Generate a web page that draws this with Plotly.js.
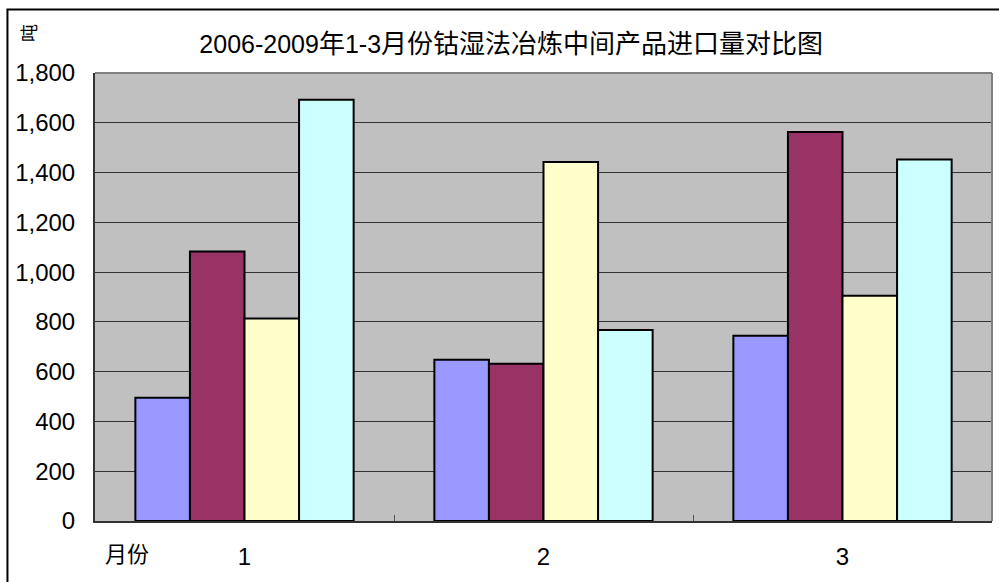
<!DOCTYPE html>
<html>
<head>
<meta charset="utf-8">
<script src="https://cdn.plot.ly/plotly-3.0.1.min.js"></script>
<style>html,body{margin:0;padding:0;background:#fff;}#chart{width:999px;height:582px;}</style>
</head>
<body>
<div id="chart"></div>
<script>
const months = ['1', '2', '3'];
const seriesNames = ['2006', '2007', '2008', '2009'];
const s2006 = [495, 648, 744];
const s2007 = [1083, 632, 1563];
const s2008 = [814, 1442, 905];
const s2009 = [1693, 767, 1452];
const colors = ['#9999FF', '#993366', '#FFFFCC', '#CCFFFF'];
const allSeries = [s2006, s2007, s2008, s2009];

const FONT = 'Liberation Sans, Arial, Noto Sans CJK SC, sans-serif';
const CJK = 'Noto Sans CJK SC, sans-serif';

const traces = allSeries.map((vals, i) => ({
  type: 'bar',
  name: seriesNames[i],
  x: months,
  y: vals,
  marker: {color: colors[i], line: {color: '#000000', width: 2}},
  hoverinfo: 'x+y'
}));

const cj = t => '<span style="font-size:26px;font-family:' + CJK + '">' + t + '</span>';
const titleText = '2006-2009' + cj('年') + '1-3' + cj('月份钴湿法冶炼中间产品进口量对比图');

const layout = {
  width: 999,
  height: 582,
  margin: {l: 95, r: 7, t: 73, b: 61},
  paper_bgcolor: '#FFFFFF',
  plot_bgcolor: '#C0C0C0',
  showlegend: false,
  barmode: 'group',
  bargap: 0.27,
  bargroupgap: 0,
  font: {family: FONT, size: 24, color: '#000'},
  title: {
    text: titleText,
    font: {family: FONT, size: 25, color: '#000'},
    x: 0.464, xref: 'paper', xanchor: 'center',
    y: 0.924, yref: 'container', yanchor: 'middle'
  },
  xaxis: {
    type: 'category',
    tickson: 'boundaries',
    ticks: 'inside',
    ticklen: 6,
    tickcolor: '#555',
    showgrid: false,
    showline: true,
    linecolor: '#333',
    linewidth: 2,
    tickfont: {family: FONT, size: 24, color: '#000'},
    ticklabelstandoff: 13
  },
  yaxis: {
    range: [0, 1800],
    dtick: 200,
    tickformat: ',d',
    ticks: 'inside',
    ticklen: 8,
    tickcolor: '#333',
    showgrid: true,
    gridcolor: '#333333',
    gridwidth: 1,
    zeroline: false,
    showline: true,
    linecolor: '#333',
    linewidth: 2,
    tickfont: {family: FONT, size: 24, color: '#000'},
    ticklabelstandoff: 13
  },
  shapes: [
    {type: 'line', xref: 'paper', yref: 'paper', x0: 0, x1: 1, y0: 1, y1: 1, line: {color: '#808080', width: 2}},
    {type: 'line', xref: 'paper', yref: 'paper', x0: 1, x1: 1, y0: 0, y1: 1, line: {color: '#808080', width: 2}},
    {type: 'rect', xref: 'paper', yref: 'paper', x0: -0.0976, x1: 1.02, y0: -0.2, y1: 1.1417, line: {color: '#000', width: 2}, fillcolor: 'rgba(0,0,0,0)'}
  ],
  annotations: [
    {text: '吨', xref: 'paper', yref: 'paper', x: (28 - 95) / 897, y: (521 - 33) / 448, showarrow: false, textangle: -90, font: {family: CJK, size: 18, color: '#000'}, xanchor: 'center', yanchor: 'middle'},
    {text: '月份', xref: 'paper', yref: 'paper', x: (127 - 95) / 897, y: (521 - 552) / 448, showarrow: false, font: {family: CJK, size: 22, color: '#000'}, xanchor: 'center', yanchor: 'middle'}
  ]
};

Plotly.newPlot('chart', traces, layout, {displayModeBar: false, staticPlot: true});
</script>
</body>
</html>
